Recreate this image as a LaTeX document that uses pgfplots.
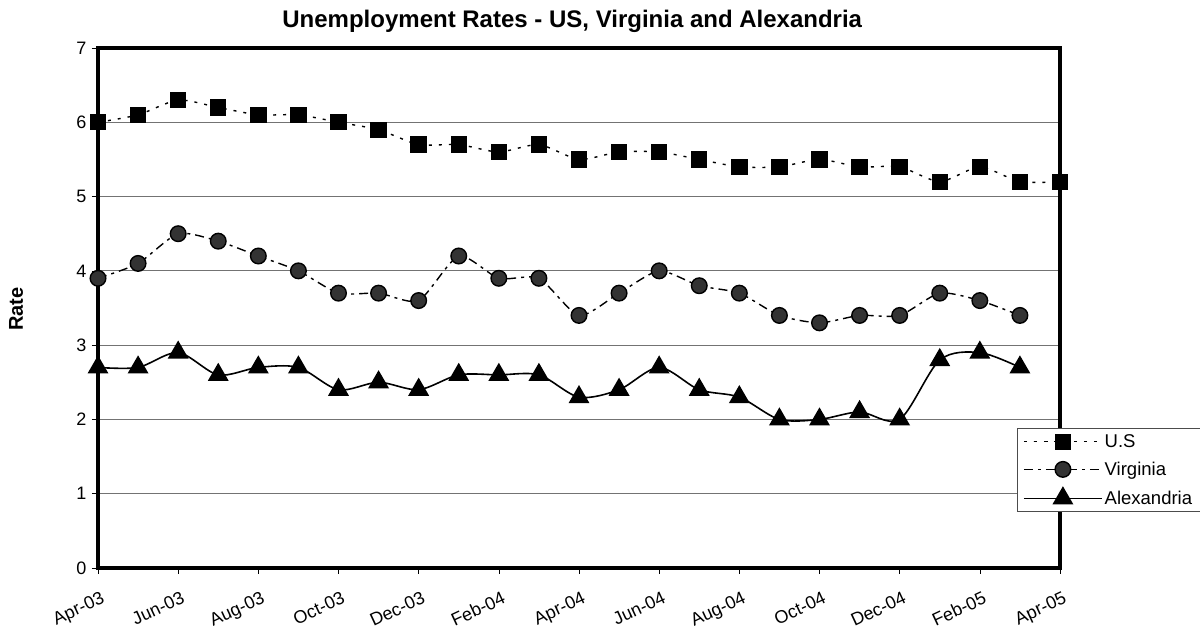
\documentclass[border=0pt]{standalone}
\usepackage{fontspec}
\setmainfont{Liberation Sans}
\usepackage{pgfplots}
\pgfplotsset{compat=1.18}

\begin{document}
\begin{tikzpicture}
\begin{axis}[
    scale only axis,
    width=962pt, height=520pt,
    xmin=0, xmax=24, ymin=0, ymax=7,
    xtick={0,2,...,24},
    xticklabels={Apr-03,Jun-03,Aug-03,Oct-03,Dec-03,Feb-04,Apr-04,Jun-04,Aug-04,Oct-04,Dec-04,Feb-05,Apr-05},
    ytick={0,...,7},
    tick pos=left,
    tick align=outside,
    major tick length=6pt,
    tick style={black, line width=0.6pt},
    axis line style={line width=4pt, line cap=rect},
    ymajorgrids,
    grid style={black!55, line width=0.8pt},
    clip=false,
    /pgf/number format/assume math mode=true,
    ticklabel style={font=\fontsize{18}{20}\selectfont},
    yticklabel style={xshift=-2pt},
    xticklabel style={rotate=25, anchor=north east, inner sep=2pt, xshift=-3pt, yshift=-14pt},
    title={Unemployment Rates - US, Virginia and Alexandria},
    title style={font=\bfseries\fontsize{24}{27}\selectfont, at={(axis description cs:0.493,1)}, anchor=base, yshift=15pt},
    ylabel={Rate},
    ylabel style={font=\bfseries\fontsize{20}{22}\selectfont, at={(axis description cs:-0.0852,0.498)}, anchor=center},
    legend style={at={(axis description cs:0.955,0.269)}, anchor=north west, draw=black!70, line width=0.8pt,
        font=\fontsize{18.5}{21}\selectfont, inner xsep=6pt, inner ysep=4pt, row sep=9pt},
    legend cell align=left,
    legend image code/.code={\draw[mark repeat=2,mark phase=2] plot coordinates {(0pt,0pt) (39pt,0pt) (78pt,0pt)};},
]
% U.S
\addplot[black, line width=1.4pt, dash pattern=on 3pt off 7pt, smooth, tension=0.4,
    mark=square*, mark size=7.5pt, mark options={solid, fill=black}] coordinates {
    (0,6.0) (1,6.1) (2,6.3) (3,6.2) (4,6.1) (5,6.1) (6,6.0) (7,5.9) (8,5.7) (9,5.7)
    (10,5.6) (11,5.7) (12,5.5) (13,5.6) (14,5.6) (15,5.5) (16,5.4) (17,5.4) (18,5.5)
    (19,5.4) (20,5.4) (21,5.2) (22,5.4) (23,5.2) (24,5.2)};
\addlegendentry{U.S}
% Virginia
\addplot[black, line width=1.4pt, dash pattern=on 9pt off 5pt on 3pt off 5pt, smooth, tension=0.4,
    mark=*, mark size=7.8pt, mark options={solid, fill=black!80, draw=black}] coordinates {
    (0,3.9) (1,4.1) (2,4.5) (3,4.4) (4,4.2) (5,4.0) (6,3.7) (7,3.7) (8,3.6) (9,4.2)
    (10,3.9) (11,3.9) (12,3.4) (13,3.7) (14,4.0) (15,3.8) (16,3.7) (17,3.4) (18,3.3)
    (19,3.4) (20,3.4) (21,3.7) (22,3.6) (23,3.4)};
\addlegendentry{Virginia}
% Alexandria
\addplot[black, line width=1.6pt, smooth, tension=0.5,
    mark=triangle*, mark size=10.5pt, mark options={solid, fill=black}] coordinates {
    (0,2.7) (1,2.7) (2,2.9) (3,2.6) (4,2.7) (5,2.7) (6,2.4) (7,2.5) (8,2.4) (9,2.6)
    (10,2.6) (11,2.6) (12,2.3) (13,2.4) (14,2.7) (15,2.4) (16,2.3) (17,2.0) (18,2.0)
    (19,2.1) (20,2.0) (21,2.8) (22,2.9) (23,2.7)};
\addlegendentry{Alexandria}
\coordinate (o) at (rel axis cs:0,0);
\end{axis}
\pgfresetboundingbox
\path[use as bounding box] ([shift={(-98pt,-69pt)}]o) rectangle ([shift={(1102pt,568pt)}]o);
\end{tikzpicture}
\end{document}
